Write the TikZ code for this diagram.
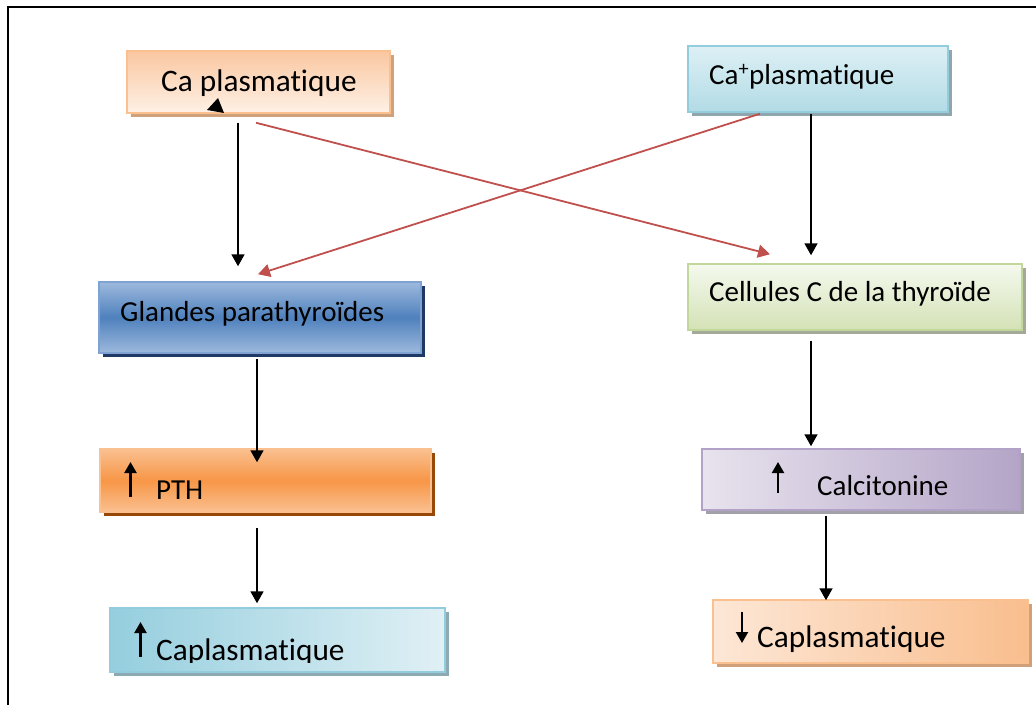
\documentclass[tikz,border=0pt]{standalone}
\usepackage{fontspec}
\setmainfont{Carlito}[Ligatures={NoCommon}]
\usetikzlibrary{arrows.meta,shadows}
\definecolor{redarr}{HTML}{C0504D}
\definecolor{Abd}{HTML}{FAC090}\definecolor{Atop}{HTML}{FAC7A0}\definecolor{Abot}{HTML}{FEF1E6}\definecolor{Ash}{HTML}{CFA27C}
\definecolor{Bbd}{HTML}{93CDDD}\definecolor{Btop}{HTML}{DDF0F5}\definecolor{Bbot}{HTML}{B2DBE6}\definecolor{Bsh}{HTML}{8FA6AD}
\definecolor{Cbd}{HTML}{7FA2D2}\definecolor{Ctop}{HTML}{9DB9DD}\definecolor{Cmid}{HTML}{4F81BD}\definecolor{Csh}{HTML}{1F3864}
\definecolor{Dbd}{HTML}{C3D69B}\definecolor{Dtop}{HTML}{F5F9EE}\definecolor{Dbot}{HTML}{D4E2B6}\definecolor{Dsh}{HTML}{A3AA98}
\definecolor{Ebd}{HTML}{FAC090}\definecolor{Etop}{HTML}{FAC090}\definecolor{Emid}{HTML}{F79646}\definecolor{Esh}{HTML}{984807}
\definecolor{Fbd}{HTML}{B3A2C7}\definecolor{Fl}{HTML}{E8E3EE}\definecolor{Fr}{HTML}{B4A5C8}\definecolor{Fsh}{HTML}{A2A0A8}
\definecolor{Gbd}{HTML}{93CDDD}\definecolor{Gl}{HTML}{95CEDE}\definecolor{Gr}{HTML}{E0F0F5}\definecolor{Gsh}{HTML}{8DA9B2}
\definecolor{Hbd}{HTML}{FAC090}\definecolor{Hl}{HTML}{FDE7D6}\definecolor{Hr}{HTML}{F9BE8E}\definecolor{Hsh}{HTML}{D0A07A}
\tikzset{
  box/.style={rectangle, draw, line width=1.5pt, inner sep=0pt},
  shad/.style={drop shadow={shadow xshift=4pt, shadow yshift=-4pt, fill=#1, opacity=1}},
  txt/.style={inner sep=0pt, anchor=base west, font=\fontsize{29}{34}\selectfont},
  bigtxt/.style={txt, font=\fontsize{31.3}{36}\selectfont},
  blk/.style={line width=1.8pt, -{Triangle[width=13pt,length=12pt]}},
  red/.style={line width=1.8pt, draw=redarr, -{Triangle[width=13pt,length=12pt]}, redarr},
  sm/.style={line width=2.2pt, -{Triangle[width=12pt,length=11pt]}}
}
\begin{document}
\begin{tikzpicture}[x=1pt,y=-1pt]
\useasboundingbox (0,0) rectangle (1036,722);
% frame
\draw[line width=1.5pt] (8,705) -- (8,7) -- (1036,7);
% boxes
\node[box, draw=Abd, top color=Atop, bottom color=Abot, shad=Ash, minimum width=263pt, minimum height=62pt] (A) at (258.5,82) {};
\node[box, draw=Bbd, top color=Btop, bottom color=Bbot, shad=Bsh, minimum width=260pt, minimum height=66pt] (B) at (818,79) {};
\node[box, draw=Cbd, top color=Ctop, bottom color=Ctop, middle color=Cmid, shad=Csh, minimum width=322pt, minimum height=71pt] (C) at (260,317.5) {};
\node[box, draw=Dbd, top color=Dtop, bottom color=Dbot, shad=Dsh, minimum width=334pt, minimum height=66pt] (D) at (855,297) {};
\node[box, draw=Ebd, top color=Etop, bottom color=Etop, middle color=Emid, shad=Esh, minimum width=331pt, minimum height=63pt] (E) at (265.5,480.5) {};
\node[box, draw=Fbd, left color=Fl, right color=Fr, shad=Fsh, minimum width=318pt, minimum height=61pt] (F) at (861,479.5) {};
\node[box, draw=Gbd, left color=Gl, right color=Gr, shad=Gsh, minimum width=335pt, minimum height=64pt] (G) at (277.5,640) {};
\node[box, draw=Hbd, left color=Hl, right color=Hr, shad=Hsh, minimum width=315pt, minimum height=63pt] (H) at (870.5,631.5) {};
% texts
\node[bigtxt] (At) at (161,92) {Ca plasmatique};
\node[txt] (Bt) at (709,85) {Ca\textsuperscript{+}plasmatique};
\node[txt] (Ct) at (120,321.5) {Glandes parathyroïdes};
\node[txt] (Dt) at (709,301.5) {Cellules C de la thyroïde};
\node[txt] (Et) at (156,499.5) {PTH};
\node[txt] (Ft) at (817,495) {Calcitonine};
\begin{scope}
\clip (G.north west) rectangle (446,662);
\node[bigtxt] (Gt) at (156,660) {Caplasmatique};
\end{scope}
\node[bigtxt] (Ht) at (757,647) {Caplasmatique};
% small arrows inside boxes
\coordinate (e1) at (130.5,497); \coordinate (e2) at (130.5,462);
\draw[sm] (e1) -- (e2);
\coordinate (f1) at (778,493); \coordinate (f2) at (778,462);
\draw[sm] (f1) -- (f2);
\coordinate (g1) at (140.5,657); \coordinate (g2) at (140.5,622);
\draw[sm] (g1) -- (g2);
\coordinate (h1) at (742,612); \coordinate (h2) at (742,643);
\draw[sm] (h1) -- (h2);
% stray arrowhead
\fill (207,110) -- (218,98) -- (224,113) -- cycle;
% connectors
\draw[blk] ([xshift=-20.5pt,yshift=-9pt]A.south) -- ([xshift=-22pt,yshift=15pt]C.north);
\draw[red] ([xshift=-2.5pt,yshift=-9pt]A.south) -- ([xshift=-85pt,yshift=9pt]D.north);
\draw[red] ([xshift=-58pt,yshift=-1pt]B.south) -- ([xshift=-2pt,yshift=7pt]C.north);
\draw[blk] ([xshift=-7pt,yshift=-1pt]B.south) -- ([xshift=-44pt,yshift=8pt]D.north);
\draw[blk] ([xshift=-3pt,yshift=-5pt]C.south) -- ([xshift=-8.5pt,yshift=-14pt]E.north);
\draw[blk] ([xshift=-44pt,yshift=-10pt]D.south) -- ([xshift=-50pt,yshift=2pt]F.north);
\draw[blk] ([xshift=-8.5pt,yshift=-15pt]E.south) -- ([xshift=-20.5pt,yshift=4pt]G.north);
\draw[blk] ([xshift=-35pt,yshift=-5pt]F.south) -- ([xshift=-44.5pt,yshift=-1pt]H.north);
\end{tikzpicture}
\end{document}
